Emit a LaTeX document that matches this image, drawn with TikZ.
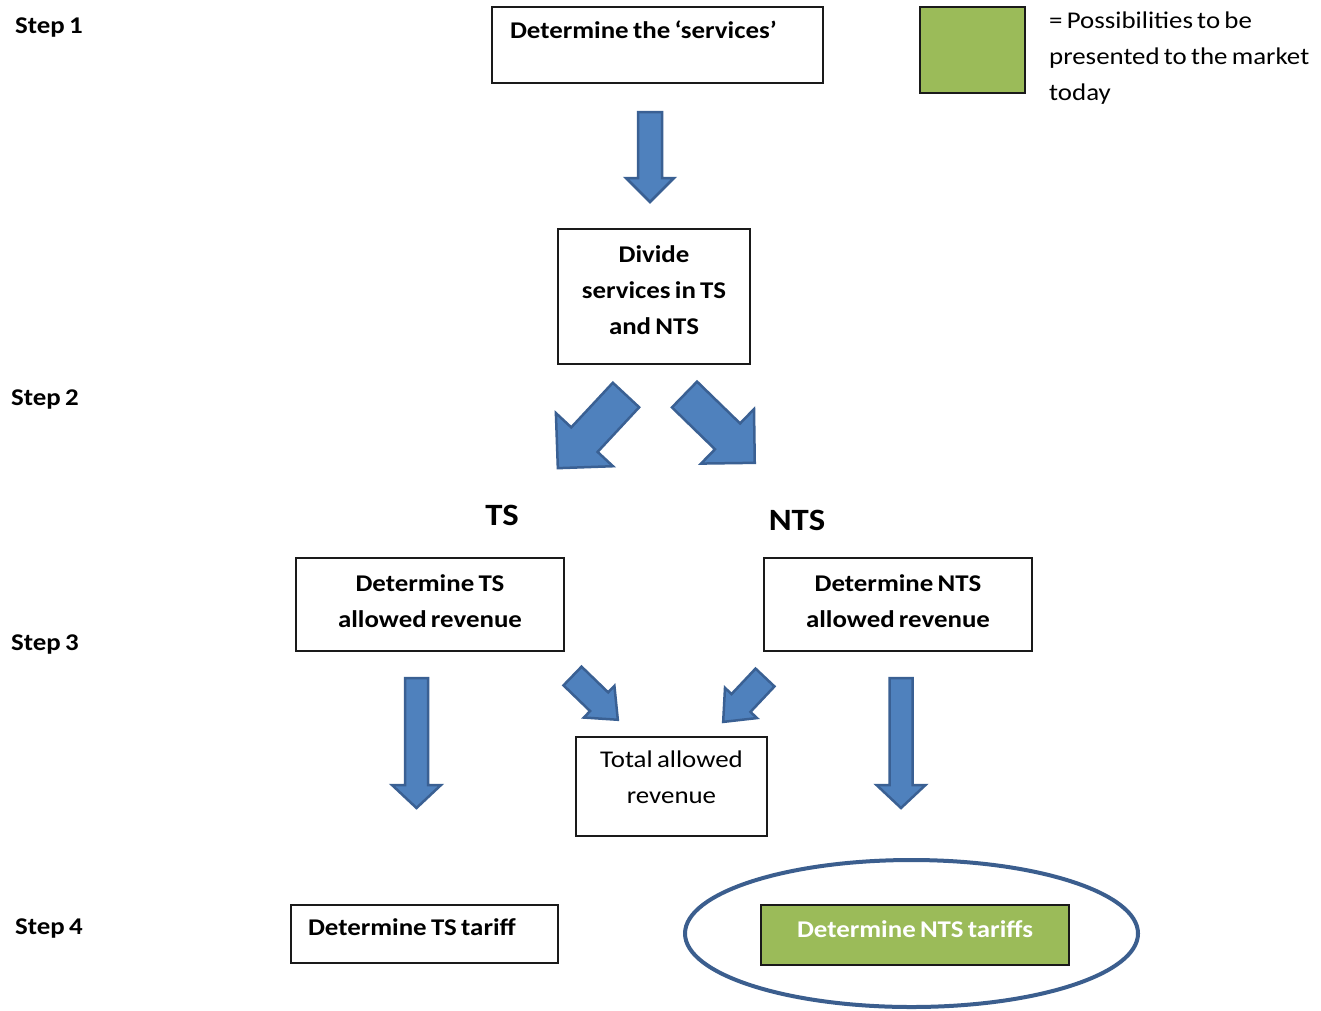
\documentclass[tikz,border=0pt]{standalone}
\usepackage{fontspec}
\setmainfont{Carlito}[FakeStretch=1.12, WordSpace=0.7]
\usetikzlibrary{shapes.geometric}

\definecolor{arrowfill}{HTML}{4F81BD}
\definecolor{arrowline}{HTML}{3A6093}
\definecolor{greenfill}{HTML}{9BBB59}
\definecolor{ringline}{HTML}{3B5E8E}
\definecolor{boxline}{HTML}{1A1A1A}

\tikzset{
  body/.style={font=\fontsize{24}{36}\selectfont},
  bodybold/.style={font=\fontsize{24}{36}\selectfont\bfseries},
  stepbox/.style={draw=boxline, line width=1.5pt, inner xsep=0pt, inner ysep=2pt, bodybold},
  plainbox/.style={draw=boxline, line width=1.5pt, inner xsep=0pt, inner ysep=2pt, body},
  steplabel/.style={bodybold, inner sep=0pt, anchor=base west},
  branchlabel/.style={font=\fontsize{31}{36}\selectfont\bfseries, inner sep=0pt, anchor=base},
  arrowbody/.style={fill=arrowfill, draw=arrowline, line width=2.5pt, line join=miter},
  % block arrow along +x: length / shaft half-width / head half-width / head length
  pics/blockarrow/.style args={#1/#2/#3/#4}{code={
    \draw[arrowbody] (0,#2) -- ({#1-#4},#2) -- ({#1-#4},#3) -- (#1,0)
      -- ({#1-#4},-#3) -- ({#1-#4},-#2) -- (0,-#2) -- cycle;
  }},
}

\begin{document}
\begin{tikzpicture}[x=1pt, y=-1pt]
  \fill[white] (0,0) rectangle (1321,1010);
  \useasboundingbox (0,0) rectangle (1321,1010);

  % step labels on the left
  \node[steplabel] (s1) at (15,33)  {Step 1};
  \node[steplabel] (s2) at (11,405) {Step 2};
  \node[steplabel] (s3) at (11,650) {Step 3};
  \node[steplabel] (s4) at (15,934) {Step 4};

  % legend
  \node[draw=boxline, line width=1.5pt, fill=greenfill, minimum width=105pt, minimum height=86pt, inner sep=0pt]
    (keybox) at (972.5,50) {};
  \node[body, anchor=north west, inner sep=0pt, align=left] (keytext) at (1049,10)
    {\rule{0pt}{18pt}= Possibilities to be\\presented to the market\\today};

  % step 1
  \node[stepbox, minimum width=331pt, minimum height=76pt, text width=295pt, align=flush left,
        text height=18pt, text depth=32pt] (svc) at (657.5,45) {Determine the ‘services’};
  \pic[rotate=-90] at (650,112) {blockarrow=90/12/24/24};

  % step 2
  \node[stepbox, minimum width=192pt, minimum height=135pt, align=center, text depth=15pt]
    (divide) at (654,296.5) {\rule{0pt}{18pt}Divide\\services in TS\\and NTS};
  \pic[rotate=-132.97] at (626,395) {blockarrow=100/18/39/39};
  \pic[rotate=-44.2] at (684.5,394.5) {blockarrow=98/18/38/38};

  \node[branchlabel] (tslabel) at (502,525) {TS};
  \node[branchlabel] (ntslabel) at (797,530) {NTS};

  % step 3
  \node[stepbox, minimum width=268pt, minimum height=93pt, align=center, text depth=9pt]
    (tsrev) at (430,604.5) {\rule{0pt}{18pt}Determine TS\\allowed revenue};
  \node[stepbox, minimum width=268pt, minimum height=93pt, align=center, text depth=9pt]
    (ntsrev) at (898,604.5) {\rule{0pt}{18pt}Determine NTS\\allowed revenue};
  \pic[rotate=-44.0] at (572.5,676) {blockarrow=63/13/22/26};
  \pic[rotate=-133.3] at (765,677.5) {blockarrow=61/13/22/26};
  \node[plainbox, minimum width=191pt, minimum height=99pt, align=center, text depth=21pt]
    (total) at (671.5,786.5) {\rule{0pt}{18pt}Total allowed\\revenue};
  \pic[rotate=-90] at (416.5,678) {blockarrow=130/11.5/24.5/23};
  \pic[rotate=-90] at (901,678) {blockarrow=130/11.5/24.5/23};

  % step 4
  \node[stepbox, minimum width=267pt, minimum height=58pt, text width=233pt, align=flush left,
        text height=18pt, text depth=16pt] (tstariff) at (424.5,934) {Determine TS tariff};
  \node[ellipse, draw=ringline, line width=4pt, minimum width=453pt, minimum height=147pt,
        inner sep=0pt] (ring) at (911.5,933.5) {};
  \node[stepbox, fill=greenfill, text=white, minimum width=308pt, minimum height=60pt,
        text height=18pt, text depth=14pt] (ntstariff) at (915,935) {Determine NTS tariffs};
\end{tikzpicture}
\end{document}
